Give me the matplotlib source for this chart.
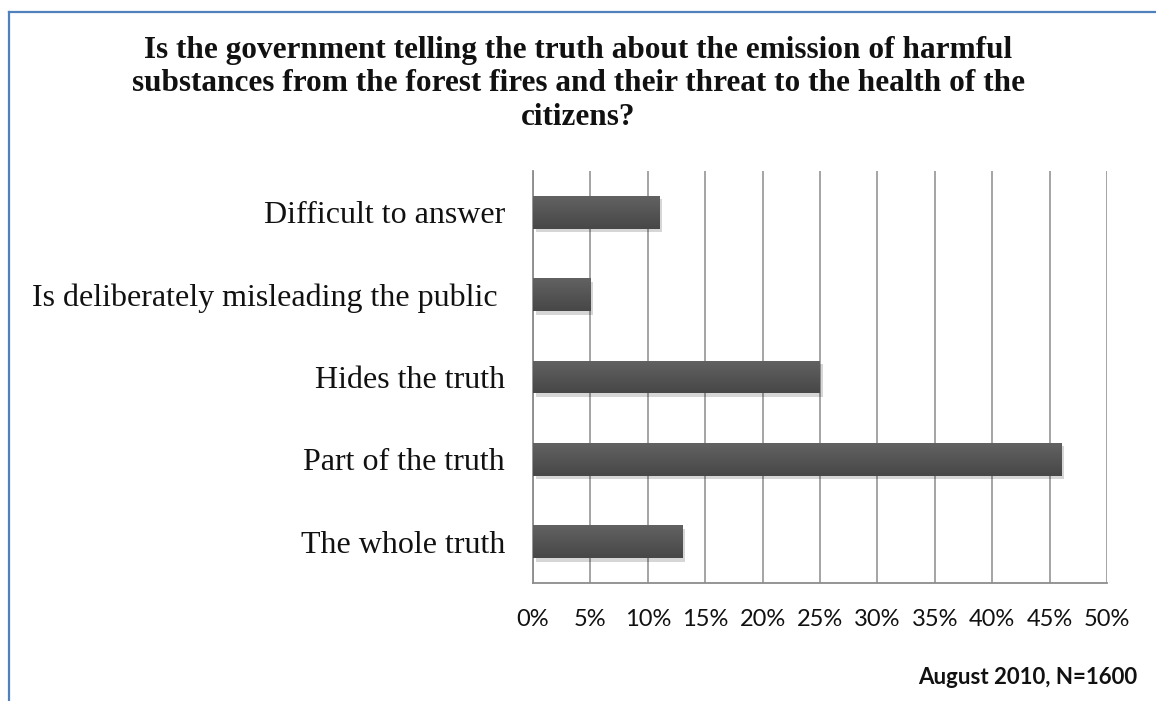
import numpy as np
import matplotlib
matplotlib.use('Agg')
import matplotlib.pyplot as plt
from matplotlib import patheffects as pe
from matplotlib.lines import Line2D
from matplotlib.colors import LinearSegmentedColormap
from matplotlib.ticker import FuncFormatter, MultipleLocator

categories = ['The whole truth', 'Part of the truth', 'Hides the truth',
              'Is deliberately misleading the public ', 'Difficult to answer']
values = [13, 46, 25, 5, 11]
title = ('Is the government telling the truth about the emission of harmful\n'
         'substances from the forest fires and their threat to the health of the\n'
         'citizens?')
note = 'August 2010, N=1600'

W, H = 1156, 701
fig = plt.figure(figsize=(W / 100, H / 100), dpi=100)
fig.patch.set_facecolor('white')
ax = fig.add_axes([533 / W, 1 - 583 / H, (1107 - 533) / W, (583 - 171) / H])

y = np.arange(len(categories))
bars = ax.barh(y, values, height=0.4, color='#555555', zorder=3,
               path_effects=[pe.SimplePatchShadow(offset=(2, -2.5), shadow_rgbFace='#000000', alpha=0.16),
                             pe.Normal()])
# vertical gradient on each bar
grad = np.linspace(0, 1, 64).reshape(-1, 1)
gcm = LinearSegmentedColormap.from_list('g', ['#474747', '#626262'])
for b in bars:
    x0, y0, w, h = b.get_x(), b.get_y(), b.get_width(), b.get_height()
    im = ax.imshow(grad, cmap=gcm, aspect='auto', origin='lower',
                   extent=[x0, x0 + w, y0, y0 + h], zorder=4)
    im.set_clip_path(b)

ax.set_xlim(0, 50)
ax.set_ylim(-0.5, len(categories) - 0.5)
ax.xaxis.set_major_locator(MultipleLocator(5))
ax.xaxis.set_major_formatter(FuncFormatter(lambda v, p: f'{v:.0f}%'))
ax.grid(axis='x', color='#8c8c8c', linewidth=1.1, zorder=0)
ax.set_axisbelow(True)
ax.set_yticks(y)
ax.set_yticklabels(categories, fontfamily='Liberation Serif', fontsize=23, color='#111111')
for lab in ax.get_xticklabels():
    lab.set_fontfamily('Lato')
    lab.set_fontsize(17)
ax.tick_params(axis='both', length=0, colors='#111111')
ax.tick_params(axis='x', pad=19)
ax.tick_params(axis='y', pad=20)
for s in ['top', 'right']:
    ax.spines[s].set_visible(False)
for s in ['left', 'bottom']:
    ax.spines[s].set_color('#8c8c8c')
    ax.spines[s].set_linewidth(1.3)

fig.text(578 / W, 1 - 36 / H, title, ha='center', va='top', fontsize=22.5,
         fontweight='bold', fontfamily='Liberation Serif', linespacing=1.2, color='#111111',
         multialignment='center')
fig.text(1137 / W, 1 - 684 / H, note, ha='right', va='baseline', fontsize=16,
         fontweight='bold', fontfamily='Lato', color='#111111')

# blue frame (top and left edges)
fig.add_artist(Line2D([9 / W, 1.0], [1 - 12 / H, 1 - 12 / H], color='#4f81bd', linewidth=1.6))
fig.add_artist(Line2D([9 / W, 9 / W], [1 - 12 / H, 0.0], color='#4f81bd', linewidth=1.6))

fig.savefig('out.png', dpi=100, facecolor='white')
